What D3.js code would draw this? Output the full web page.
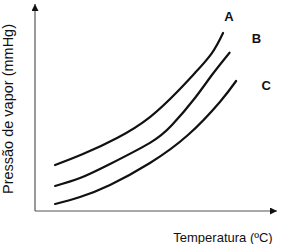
<!DOCTYPE html>
<html>
<head>
<meta charset="utf-8">
<script src="https://cdn.jsdelivr.net/npm/d3@7"></script>
<style>
  body { margin: 0; background: #fff; }
  svg { display: block; font-family: "Liberation Sans", Arial, sans-serif; }
</style>
</head>
<body>
<svg id="chart" width="281" height="244"></svg>
<script>
// curve data (temperature, vapour pressure), arbitrary units 0-100
var tempA = [8.3, 19.8, 33.9, 47.5, 59.1, 66.1, 73.1, 77.7];
var presA = [22.2, 27.5, 35.3, 45.4, 58.0, 66.7, 76.3, 86.0];
var tempB = [8.3, 18.6, 31, 47.5, 56.6, 66.1, 73.1, 80.4];
var presB = [12.1, 15.9, 22.7, 32.9, 41.5, 54.6, 65.7, 76.5];
var tempC = [8.3, 18.6, 31, 47.5, 63.2, 76.4, 83.1];
var presC = [3.4, 6.8, 12.6, 23.2, 36.7, 52.7, 62.8];
var seriesNames = ["A", "B", "C"];

var xTitle = "Temperatura (ºC)";
var yTitle = "Pressão de vapor (mmHg)";

var svg = d3.select("#chart");

var x = d3.scaleLinear().domain([0, 100]).range([35, 277]);
var y = d3.scaleLinear().domain([0, 100]).range([211, 4]);

var series = [
    { name: seriesNames[0], t: tempA, p: presA, dx: 6, dy: -12 },
    { name: seriesNames[1], t: tempB, p: presB, dx: 27, dy: -10 },
    { name: seriesNames[2], t: tempC, p: presC, dx: 30, dy: 9 }
];

// axes (plain lines with arrow heads)
var defs = svg.append("defs");
defs.append("marker")
    .attr("id", "arrow")
    .attr("viewBox", "0 0 10 10")
    .attr("refX", 10).attr("refY", 5)
    .attr("markerWidth", 9).attr("markerHeight", 7)
    .attr("markerUnits", "userSpaceOnUse")
    .attr("orient", "auto")
    .append("path")
    .attr("d", "M0,0 L10,5 L0,10 Z")
    .attr("fill", "#111");

svg.append("line")
    .attr("x1", x(0)).attr("y1", y(0))
    .attr("x2", x(0)).attr("y2", y(100))
    .attr("stroke", "#555").attr("stroke-width", 1.2)
    .attr("marker-end", "url(#arrow)");

svg.append("line")
    .attr("x1", x(0)).attr("y1", y(0))
    .attr("x2", x(100)).attr("y2", y(0))
    .attr("stroke", "#555").attr("stroke-width", 1.2)
    .attr("marker-end", "url(#arrow)");

var line = d3.line()
    .x(d => x(d[0]))
    .y(d => y(d[1]))
    .curve(d3.curveNatural);

series.forEach(function (s) {
    var pts = s.t.map((t, i) => [t, s.p[i]]);
    svg.append("path")
        .attr("d", line(pts))
        .attr("fill", "none")
        .attr("stroke", "#111")
        .attr("stroke-width", 2.2)
        .attr("stroke-linecap", "round");

    var last = pts[pts.length - 1];
    svg.append("text")
        .attr("x", x(last[0]) + s.dx)
        .attr("y", y(last[1]) + s.dy)
        .attr("text-anchor", "middle")
        .attr("font-size", 13)
        .attr("font-weight", "bold")
        .attr("fill", "#111")
        .text(s.name);
});

svg.append("text")
    .attr("x", 223)
    .attr("y", 242)
    .attr("text-anchor", "middle")
    .attr("font-size", 13)
    .attr("fill", "#111")
    .text(xTitle);

svg.append("text")
    .attr("transform", "translate(13,109) rotate(-90)")
    .attr("text-anchor", "middle")
    .attr("font-size", 14.5)
    .attr("fill", "#111")
    .text(yTitle);
</script>
</body>
</html>
